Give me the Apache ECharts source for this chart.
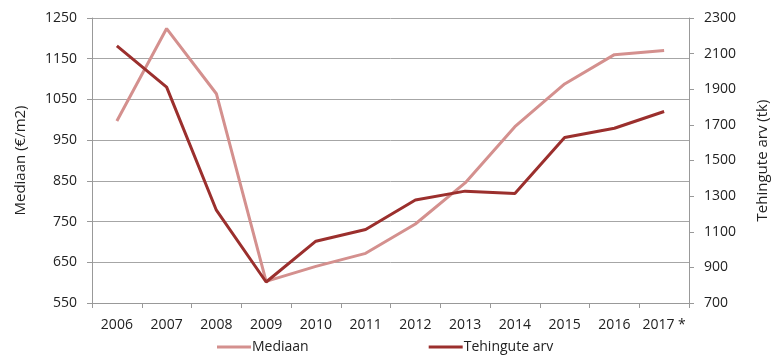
<!DOCTYPE html>
<html>
<head>
<meta charset="utf-8">
<script src="https://cdn.jsdelivr.net/npm/echarts@6/dist/echarts.min.js"></script>
<style>
html,body{margin:0;padding:0;background:#fff;}
#chart{width:782px;height:356px;}
</style>
</head>
<body>
<div id="chart"></div>
<script>
var categories = ['2006','2007','2008','2009','2010','2011','2012','2013','2014','2015','2016','2017 *'];
var mediaan = [997, 1224, 1064, 603, 640, 672, 744, 845, 983, 1088, 1160, 1170];
var tehingud = [2143, 1912, 1221, 818, 1047, 1113, 1278, 1328, 1315, 1629, 1681, 1775];
var leftTicks = {min: 550, max: 1250, interval: 100};
var rightTicks = {min: 700, max: 2300, interval: 200};

var FONT = 'Open Sans';
var plain = function (v) { return String(v); };
var chart = echarts.init(document.getElementById('chart'), null, {renderer: 'canvas'});
chart.setOption({
  animation: false,
  backgroundColor: '#ffffff',
  textStyle: {fontFamily: FONT},
  grid: {left: 92, right: 93, top: 18, bottom: 53, containLabel: false},
  legend: {
    top: 335,
    left: 212,
    itemGap: 120,
    itemWidth: 34,
    itemHeight: 3,
    icon: 'rect',
    textStyle: {fontFamily: FONT, fontSize: 14, color: '#222', padding: [0,0,0,-4]},
    data: ['Mediaan', 'Tehingute arv']
  },
  xAxis: {
    type: 'category',
    data: categories,
    boundaryGap: true,
    axisLine: {lineStyle: {color: '#999', width: 1}},
    axisTick: {show: true, length: 5, lineStyle: {color: '#999'}},
    axisLabel: {fontFamily: FONT, fontSize: 14, color: '#222', margin: 15, interval: 0}
  },
  yAxis: [
    {
      type: 'value',
      min: leftTicks.min, max: leftTicks.max, interval: leftTicks.interval,
      name: 'Mediaan (€/m2)',
      nameLocation: 'middle',
      nameGap: 64,
      nameRotate: 90,
      nameTextStyle: {fontFamily: FONT, fontSize: 15, color: '#222'},
      axisLine: {show: true, lineStyle: {color: '#999'}},
      axisTick: {show: true, length: 5, lineStyle: {color: '#999'}},
      axisLabel: {fontFamily: FONT, fontSize: 14, color: '#222', margin: 15, formatter: plain},
      splitLine: {show: true, lineStyle: {color: '#a6a6a6', width: 1}}
    },
    {
      type: 'value',
      position: 'right',
      min: rightTicks.min, max: rightTicks.max, interval: rightTicks.interval,
      name: 'Tehingute arv (tk)',
      nameLocation: 'middle',
      nameGap: 66,
      nameRotate: 90,
      nameTextStyle: {fontFamily: FONT, fontSize: 15, color: '#222'},
      axisLine: {show: true, lineStyle: {color: '#999'}},
      axisTick: {show: true, length: 5, lineStyle: {color: '#999'}},
      axisLabel: {fontFamily: FONT, fontSize: 14, color: '#222', margin: 15, formatter: plain},
      splitLine: {show: false}
    }
  ],
  series: [
    {
      name: 'Mediaan',
      type: 'line',
      yAxisIndex: 0,
      data: mediaan,
      symbol: 'none',
      itemStyle: {color: '#d4908e'},
      lineStyle: {color: '#d4908e', width: 3}
    },
    {
      name: 'Tehingute arv',
      type: 'line',
      yAxisIndex: 1,
      data: tehingud,
      symbol: 'none',
      itemStyle: {color: '#9b2f2d'},
      lineStyle: {color: '#9b2f2d', width: 3}
    }
  ]
});
</script>
</body>
</html>
